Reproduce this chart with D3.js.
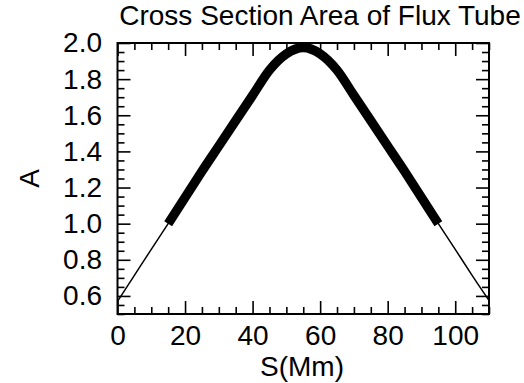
<!DOCTYPE html>
<html>
<head>
<meta charset="utf-8">
<script src="https://cdn.jsdelivr.net/npm/d3@7"></script>
<style>
  html, body { margin: 0; padding: 0; background: #fff; }
  svg { display: block; }
  text { font-family: "Liberation Sans", Arial, Helvetica, sans-serif; fill: #000; }
</style>
</head>
<body>
<svg id="chart" width="524" height="383"></svg>
<script>
// Distance along the loop (Mm)
const sValues = [0, 5, 10, 15, 20, 25, 30, 35, 40, 45, 50, 55,
                 60, 65, 70, 75, 80, 85, 90, 95, 100, 105, 110];
// Cross-section area of the flux tube at each position
const areaValues = [0.57, 0.714, 0.858, 1.0, 1.145, 1.29, 1.43, 1.57, 1.71, 1.85, 1.94, 1.975,
                    1.94, 1.85, 1.71, 1.57, 1.43, 1.29, 1.145, 1.0, 0.858, 0.714, 0.575];
// Range of the thick (coronal) part of the tube
const thickRange = [15, 95];

const xMajorTicks = [0, 20, 40, 60, 80, 100];
const yMajorTicks = [0.6, 0.8, 1.0, 1.2, 1.4, 1.6, 1.8, 2.0];

const titleText = "Cross Section Area of Flux Tube";
const xLabel = "S(Mm)";
const yLabel = "A";

const svg = d3.select("#chart");
const plotLeft = 117.5, plotRight = 489, plotTop = 43, plotBottom = 314;

const x = d3.scaleLinear().domain([0, 110]).range([plotLeft, plotRight]);
const y = d3.scaleLinear().domain([0.5, 2.0]).range([plotBottom, plotTop]);

const xMinor = d3.range(0, 110.001, 5).filter(v => v % 20 !== 0);
const yMinor = d3.range(0.5, 2.0001, 0.05).map(v => +v.toFixed(2))
  .filter(v => !yMajorTicks.some(m => Math.abs(m - v) < 1e-6));

const fontSize = 28;
const majorLen = 13, minorLen = 7;

function styleAxis(g) {
  g.select(".domain").remove();
  g.selectAll(".tick line").attr("stroke", "#000").attr("stroke-width", 1.6);
  g.selectAll("text").style("font-size", fontSize + "px")
    .style("font-family", '"Liberation Sans", Arial, sans-serif').attr("fill", "#000");
}

// Bottom axis with labels
svg.append("g").attr("transform", `translate(0,${plotBottom})`)
  .call(d3.axisBottom(x).tickValues(xMajorTicks).tickSize(-majorLen).tickPadding(11).tickFormat(d3.format("d")))
  .call(styleAxis);
svg.append("g").attr("transform", `translate(0,${plotBottom})`)
  .call(d3.axisBottom(x).tickValues(xMinor).tickSize(-minorLen).tickFormat(""))
  .call(styleAxis);
// Top axis (ticks only)
svg.append("g").attr("transform", `translate(0,${plotTop})`)
  .call(d3.axisTop(x).tickValues(xMajorTicks).tickSize(-majorLen).tickFormat(""))
  .call(styleAxis);
svg.append("g").attr("transform", `translate(0,${plotTop})`)
  .call(d3.axisTop(x).tickValues(xMinor).tickSize(-minorLen).tickFormat(""))
  .call(styleAxis);
// Left axis with labels
svg.append("g").attr("transform", `translate(${plotLeft},0)`)
  .call(d3.axisLeft(y).tickValues(yMajorTicks).tickSize(-majorLen).tickPadding(15.5).tickFormat(d3.format(".1f")))
  .call(styleAxis);
svg.append("g").attr("transform", `translate(${plotLeft},0)`)
  .call(d3.axisLeft(y).tickValues(yMinor).tickSize(-minorLen).tickFormat(""))
  .call(styleAxis);
// Right axis (ticks only)
svg.append("g").attr("transform", `translate(${plotRight},0)`)
  .call(d3.axisRight(y).tickValues(yMajorTicks).tickSize(-majorLen).tickFormat(""))
  .call(styleAxis);
svg.append("g").attr("transform", `translate(${plotRight},0)`)
  .call(d3.axisRight(y).tickValues(yMinor).tickSize(-minorLen).tickFormat(""))
  .call(styleAxis);

// Frame
svg.append("rect")
  .attr("x", plotLeft).attr("y", plotTop)
  .attr("width", plotRight - plotLeft).attr("height", plotBottom - plotTop)
  .attr("fill", "none").attr("stroke", "#000").attr("stroke-width", 2);

// Curve
const pts = sValues.map((s, i) => ({ s, a: areaValues[i] }));
const line = d3.line().x(d => x(d.s)).y(d => y(d.a)).curve(d3.curveMonotoneX);

svg.append("path").datum(pts)
  .attr("d", line).attr("fill", "none").attr("stroke", "#000").attr("stroke-width", 1.5);
svg.append("path").datum(pts.filter(d => d.s >= thickRange[0] && d.s <= thickRange[1]))
  .attr("d", line).attr("fill", "none").attr("stroke", "#000")
  .attr("stroke-width", 9.3).attr("stroke-linecap", "butt").attr("stroke-linejoin", "round");

// Titles
svg.append("text").attr("x", 320).attr("y", 25).attr("text-anchor", "middle")
  .style("font-size", fontSize + "px").text(titleText);
svg.append("text").attr("x", 302).attr("y", 376).attr("text-anchor", "middle")
  .style("font-size", fontSize + "px").text(xLabel);
svg.append("text").attr("transform", `translate(39,${(plotTop + plotBottom) / 2}) rotate(-90)`)
  .attr("text-anchor", "middle").style("font-size", fontSize + "px").text(yLabel);
</script>
</body>
</html>
